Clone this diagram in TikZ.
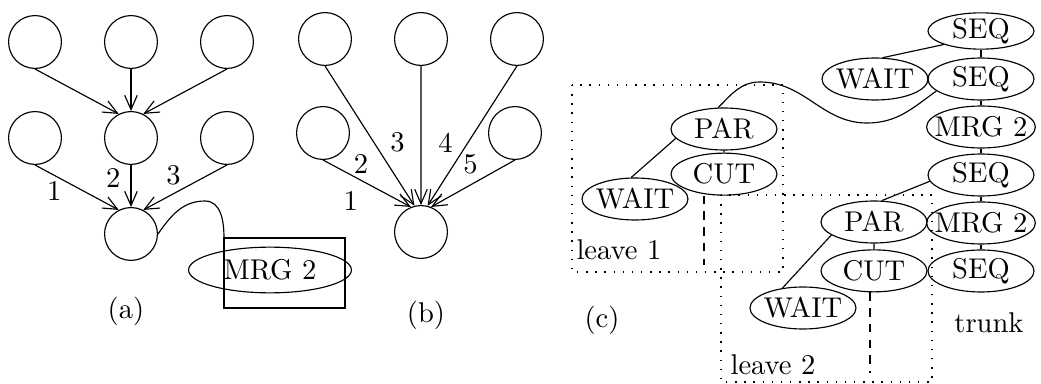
\documentclass[tikz,border=0pt]{standalone}
\usepackage{tikz}
\usetikzlibrary{arrows.meta,positioning,shapes.geometric}

\begin{document}
\begin{tikzpicture}[>={Straight Barb[length=5pt,width=4.4pt]},thin,
		x=0.35pt,y=0.35pt,node distance=33.6pt,
		circ node/.style={circle,draw,minimum size=18.5pt,inner sep=0pt},
		op node/.style={ellipse,draw,minimum width=37.1pt,minimum height=14.7pt,
			inner xsep=-2.75pt,inner ysep=0pt},
		num/.style={inner sep=1pt},
		leave box/.style={line width=0.5pt,dash pattern=on 0.5pt off 2.7pt},
		cut line/.style={dash pattern=on 3pt off 2.5pt}]

		\useasboundingbox (0,0) rectangle (1041,-384);

		% (a)
		\node[circ node] (a1) at (35,-42) {};
		\node[circ node] (a2) [right of=a1] {};
		\node[circ node] (a3) [right of=a2] {};
		\node[circ node] (a4) [below of=a1] {};
		\node[circ node] (a5) [below of=a2] {};
		\node[circ node] (a6) [below of=a3] {};
		\node[circ node] (a7) [below of=a5] {};
		\node[ellipse,draw,minimum width=57pt,minimum height=16pt,inner sep=0pt] (mrg) at (270,-270) {MRG 2};
		\coordinate (corner) at (224,-238);
		\coordinate (bend) at (205,-201);
		\node (la) at (126,-311) {(a)};

		\path[->]
		(a1.south) edge (a5.117)
		(a2.south) edge (a5.north)
		(a3.south) edge (a5.63)
		(a4.south) edge node[num,pos=0.23,below=1pt] {1} (a7.117)
		(a5.south) edge node[num,pos=0.32,left=2.5pt] {2} (a7.north)
		(a6.south) edge node[num,pos=0.64,above=1.7pt] {3} (a7.63);
		\draw (corner) rectangle (345,-308);
		\draw (a7.east) to[out=55,in=180] (bend) to[out=0,in=90] (corner);

		% (b)
		\node[circ node] (b1) at (325,-39) {};
		\node[circ node] (b2) [right of=b1] {};
		\node[circ node] (b3) [right of=b2] {};
		\node[circ node] (b4) at (323,-133) {};
		\node[circ node] (b5) at (515,-133) {};
		\node[circ node] (b6) at (421,-232) {};
		\node (lb) at (426,-315) {(b)};

		\path[->]
		(b4.south) edge node[num,pos=0.315,below=4.7pt] {1} (b6.112)
		(b1.south) edge node[num,pos=0.7,left=5.6pt] {2} (b6.104)
		(b2.south) edge node[num,pos=0.55,left=4.5pt] {3} (b6.north)
		(b3.south) edge node[num,pos=0.55,left=4.1pt] {4} (b6.76)
		(b5.south) edge node[num,pos=0.53,above=2.7pt] {5} (b6.68);

		% (c) trunk
		\begin{scope}[node distance=16.8pt]
		\node[op node,minimum height=12pt] (s1) at (981,-31) {SEQ};
		\node[op node] (s2) [below of=s1] {SEQ};
		\node[op node] (m1) [below of=s2] {MRG 2};
		\node[op node] (s3) [below of=m1] {SEQ};
		\node[op node] (m2) [below of=s3] {MRG 2};
		\node[op node] (s4) [below of=m2] {SEQ};
		\node[op node] (w0) [left of=s2,node distance=37.1pt] {WAIT};
		\end{scope}

		% leaves
		\node[op node] (p1) at (724,-129) {PAR};
		\node[op node] (c1) [below=0.7pt of p1] {CUT};
		\node[op node] (w1) at (635,-199) {WAIT};
		\node[op node] (p2) at (874,-222) {PAR};
		\node[op node] (c2) [below=2pt of p2] {CUT};
		\node[op node] (w2) at (803,-308) {WAIT};

		\draw[leave box] (572,-85) rectangle (783,-272);
		\draw[leave box] (721,-195) rectangle (932,-382);
		\node (l1) at (619,-250) {leave 1};
		\node (l2) at (773,-365) {leave 2};
		\node (tr) at (989,-323) {trunk};
		\node (lc) at (602,-320) {(c)};

		\draw (s1) -- (s2) (s2) -- (m1) (m1) -- (s3) (s3) -- (m2) (m2) -- (s4);
		\draw (s1.200) -- (w0.70);
		\draw (p1) -- (c1) (p1.191) -- (w1.100);
		\draw (p2) -- (c2) (p2.197) -- (w2.136);
		\draw (s3.187) -- (p2.70);
		\coordinate (dip) at (867,-123);
		\coordinate (hump) at (760,-82);
		\draw (s2.195) to[out=216,in=0] (dip) to[out=180,in=0] (hump) to[out=180,in=45] (p1.105);
		\coordinate (e1) at (704,-265);
		\coordinate (e2) at (870,-373);
		\draw[cut line] (e1 |- c1.south) -- (e1);
		\draw[cut line] (e2 |- c2.south) -- (e2);

\end{tikzpicture}
\end{document}
